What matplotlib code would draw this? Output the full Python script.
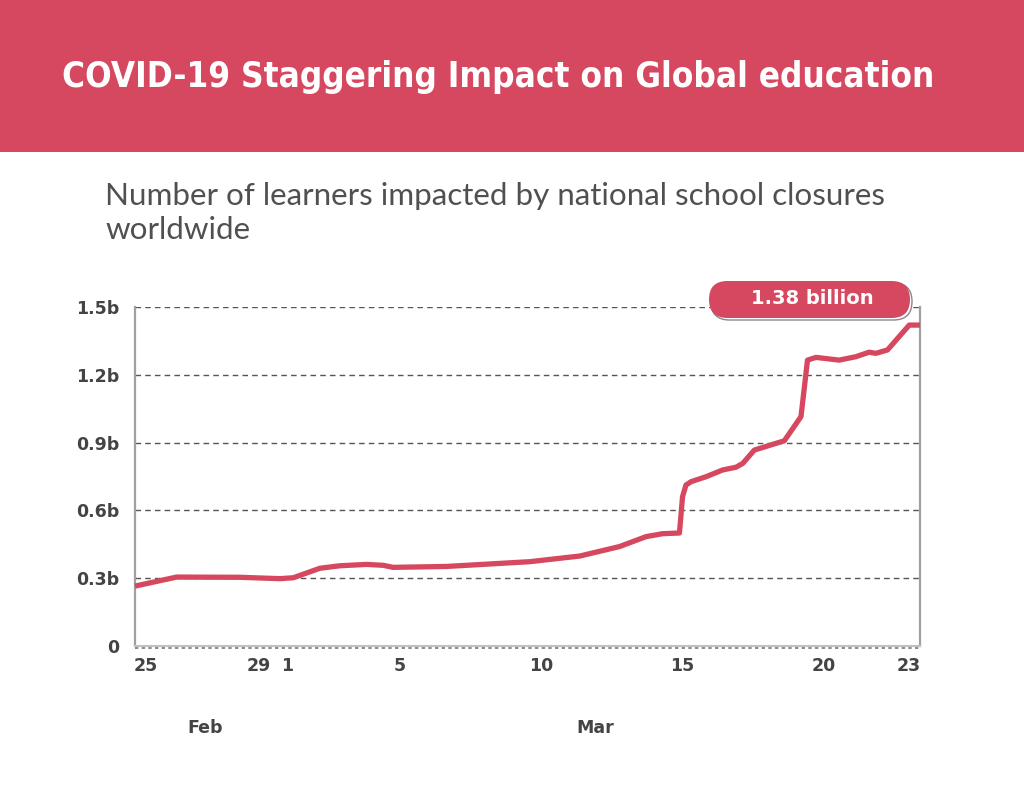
import matplotlib
matplotlib.use("Agg")
import os
import matplotlib.pyplot as plt
import matplotlib.transforms as mtransforms
from matplotlib.patches import FancyBboxPatch
from matplotlib import font_manager

# ---------------- data ----------------
title = "COVID-19 Staggering Impact on Global education"
subtitle_1 = "Number of learners impacted by national school closures"
subtitle_2 = "worldwide"
annotation = "1.38 billion"

# days since Feb 25, 2020 (fractional)
days = [-0.37, 1.1, 3.34, 4.76, 5.23, 6.17, 6.88, 7.82, 8.41, 8.76, 10.65, 13.59,
        15.36, 16.77, 17.71, 18.30, 18.89, 19.0, 19.12, 19.30, 19.83, 20.42, 20.89,
        21.13, 21.54, 22.60, 23.19, 23.42, 23.72, 24.54, 25.13, 25.60, 25.84, 26.25,
        27.02, 27.4]
learners_b = [0.265, 0.305, 0.304, 0.298, 0.302, 0.344, 0.355, 0.361, 0.357, 0.348,
              0.352, 0.373, 0.398, 0.440, 0.484, 0.497, 0.500, 0.661, 0.712, 0.727,
              0.749, 0.779, 0.791, 0.808, 0.867, 0.908, 1.015, 1.265, 1.277, 1.265,
              1.280, 1.300, 1.295, 1.310, 1.420, 1.420]

tick_days = [0, 4, 5, 9, 14, 19, 24, 27]
tick_labels = ["25", "29", "1", "5", "10", "15", "20", "23"]
month_labels = ["Feb", "Mar"]
month_days = [2.1, 15.9]
y_ticks = [0, 0.3, 0.6, 0.9, 1.2, 1.5]
y_labels = ["0", "0.3b", "0.6b", "0.9b", "1.2b", "1.5b"]

# ---------------- style ----------------
RED = "#d6485f"
DARK = "#444444"
W, H = 1024, 788


def pick_condensed():
    cands = [("Noto Sans ExtraCondensed", "normal", "condensed"),
             ("Noto Sans Condensed", "normal", "condensed"),
             ("Noto Sans", "extra-condensed", "condensed"),
             ("DejaVu Sans Condensed", "normal", "condensed"),
             ("DejaVu Sans", "condensed", "condensed"),
             ("Liberation Sans Narrow", "normal", "narrow")]
    for fam, stretch, key in cands:
        try:
            fp = font_manager.FontProperties(family=fam, stretch=stretch, weight="bold")
            path = font_manager.findfont(fp, fallback_to_default=False)
            if key in os.path.basename(path).lower():
                return font_manager.FontProperties(fname=path)
        except Exception:
            pass
    return font_manager.FontProperties(family="DejaVu Sans", weight="bold")


title_fp = pick_condensed()
tick_font = "DejaVu Sans"
sub_font = "Lato"

fig = plt.figure(figsize=(W / 100, H / 100), dpi=100)
fig.patch.set_facecolor("white")


def fx(px):
    return px / W


def fy(py):
    return 1 - py / H


# banner
banner = FancyBboxPatch((fx(-10), fy(152)), fx(1034 + 10), (152 + 20) / H,
                        boxstyle="round,pad=0,rounding_size=0.006",
                        transform=fig.transFigure, facecolor=RED, edgecolor="none")
fig.patches.append(banner)

t = fig.text(fx(62), fy(77), title, color="white", fontproperties=title_fp,
             ha="left", va="center")
t.set_fontsize(38)
t.set_fontweight("bold")
fig.canvas.draw()
r = fig.canvas.get_renderer()
bb = t.get_window_extent(r)
t.set_fontsize(38 * 873 / bb.width)

s1 = fig.text(fx(105), fy(196), subtitle_1, color="#505050", fontsize=19,
              family=sub_font, ha="left", va="center")
fig.canvas.draw()
bb = s1.get_window_extent(r)
sub_size = 19 * 782 / bb.width
s1.set_fontsize(sub_size)
fig.text(fx(105), fy(230), subtitle_2, color="#505050", fontsize=sub_size,
         family=sub_font, ha="left", va="center")

# axes
ax = fig.add_axes([fx(135), fy(646), fx(920) - fx(135), (646 - 307) / H])
ax.set_facecolor("none")
ax.plot(days, learners_b, color=RED, lw=3.8, solid_joinstyle="round",
        solid_capstyle="butt", zorder=5, clip_on=False)
ax.set_xlim(-0.37, 27.4)
ax.set_ylim(0, 1.5)

ax.set_yticks(y_ticks)
ax.set_yticklabels(y_labels)
ax.set_xticks(tick_days)
ax.set_xticklabels(tick_labels)
ax.tick_params(axis="both", length=0, labelsize=12.5, labelcolor=DARK)
ax.tick_params(axis="y", pad=11)
ax.tick_params(axis="x", pad=8)
for lab in ax.get_xticklabels() + ax.get_yticklabels():
    lab.set_fontfamily(tick_font)
    lab.set_fontweight("bold")

for yv in y_ticks[1:]:
    ax.axhline(yv, color="#555555", lw=1.0, ls=(0, (4, 3)), zorder=1)

ax.spines["top"].set_visible(False)
ax.spines["left"].set_color("#a0a0a0")
ax.spines["left"].set_linewidth(1.6)
ax.spines["right"].set_color("#a0a0a0")
ax.spines["right"].set_linewidth(1.6)
ax.spines["bottom"].set_color("#c0c0c0")
ax.spines["bottom"].set_linewidth(1.5)
off = mtransforms.ScaledTranslation(0, -2 / 100, fig.dpi_scale_trans)
ax.plot([-0.37, 27.4], [0, 0], color="#777777", lw=1.2, ls=(0, (2, 2)),
        transform=ax.transData + off, clip_on=False, zorder=2)

# month labels
for d, m in zip(month_days, month_labels):
    ax.text(d, -(728 - 646) / (646 - 307), m, transform=ax.get_xaxis_transform(),
            ha="center", va="center", fontsize=12.5, fontweight="bold",
            family=tick_font, color=DARK)

# annotation pill
pw, ph = (910 - 709) / W, (318 - 281) / H
shadow = FancyBboxPatch((fx(711), fy(320)), pw, ph,
                        boxstyle="round,pad=0,rounding_size=0.018",
                        transform=fig.transFigure, facecolor="white",
                        edgecolor="#888888", lw=1.0, zorder=9,
                        mutation_aspect=W / H)
pill = FancyBboxPatch((fx(709), fy(318)), pw, ph,
                      boxstyle="round,pad=0,rounding_size=0.018",
                      transform=fig.transFigure, facecolor=RED,
                      edgecolor="none", zorder=10, mutation_aspect=W / H)
fig.patches.extend([shadow, pill])
fig.text(fx(812), fy(299), annotation, color="white", fontsize=14,
         fontweight="bold", family=tick_font, ha="center", va="center", zorder=11)

fig.savefig("out.png", dpi=100, facecolor="white")
